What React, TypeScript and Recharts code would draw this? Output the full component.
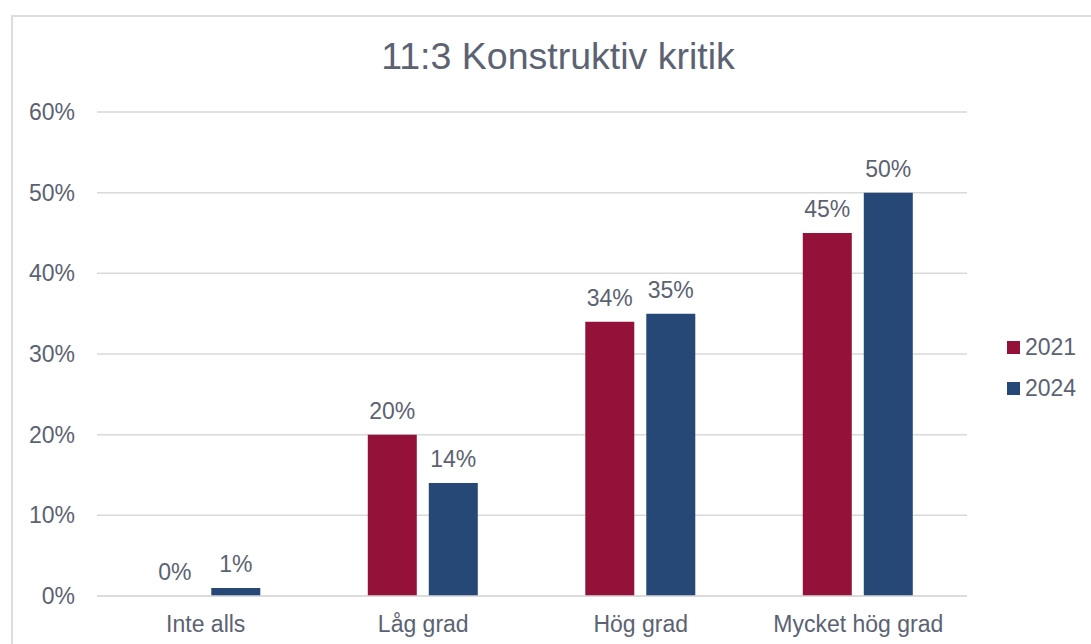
import { BarChart, Bar, XAxis, YAxis, CartesianGrid, LabelList } from 'recharts';

const categories = ['Inte alls', 'Låg grad', 'Hög grad', 'Mycket hög grad'];
const values2021 = [0, 20, 34, 45];
const values2024 = [1, 14, 35, 50];
const yTicks = [0, 10, 20, 30, 40, 50, 60];

const data = categories.map((name, i) => ({
    name,
    y2021: values2021[i],
    y2024: values2024[i],
}));

const textColor = '#5b6272';
const fontFamily = '"Liberation Sans", Arial, sans-serif';

const seriesLegend = [
    { label: '2021', color: '#941239' },
    { label: '2024', color: '#264877' },
];

function LegendBox() {
    return (
        <div style={{ position: 'absolute', left: 1007, top: 327, fontSize: 23, color: textColor }}>
            {seriesLegend.map((s) => (
                <div key={s.label} style={{ display: 'flex', alignItems: 'center', height: 41 }}>
                    <span style={{ width: 13, height: 13, background: s.color, marginRight: 5, display: 'inline-block' }} />
                    <span>{s.label}</span>
                </div>
            ))}
        </div>
    );
}

const renderValue = (props: any) => {
    const { x, y, width, value } = props;
    return (
        <text x={x + width / 2} y={y - 16} textAnchor="middle" fontSize={23} fill={textColor} fontFamily={fontFamily}>
            {`${value}%`}
        </text>
    );
};

// a zero bar is dropped by recharts, so give it a hairline so its label still shows
const hairline = (v: any) => (v === 0 ? 0.01 : 0);

export default function App() {
    return (
        <div style={{ position: 'absolute', left: 0, top: 0, width: 1091, height: 644, overflow: 'hidden', background: '#fff', fontFamily }}>
            <div style={{ position: 'absolute', left: 11, top: 15, width: 1200, height: 800, border: '2px solid #dcdcdf' }} />
            <div style={{ position: 'absolute', left: 0, top: 35, width: 1116, textAlign: 'center', fontSize: 37.5, color: textColor }}>
                11:3 Konstruktiv kritik
            </div>
            <div style={{ position: 'absolute', left: 0, top: 0 }}>
                <BarChart
                    width={1091}
                    height={644}
                    data={data}
                    margin={{ top: 112, right: 124, bottom: 0, left: 0 }}
                    barGap={12}
                    barCategoryGap="24.5%"
                >
                    <CartesianGrid vertical={false} stroke="#d9d9d9" strokeWidth={1.5} />
                    <XAxis
                        dataKey="name"
                        height={48}
                        axisLine={{ stroke: '#d9d9d9', strokeWidth: 1.5 }}
                        tickLine={false}
                        tickSize={0}
                        tickMargin={20}
                        tick={{ fontSize: 23, fill: textColor, fontFamily }}
                    />
                    <YAxis
                        width={97}
                        domain={[0, 60]}
                        ticks={yTicks}
                        tickFormatter={(v) => `${v}%`}
                        axisLine={false}
                        tickLine={false}
                        tickSize={0}
                        tickMargin={22}
                        tick={{ fontSize: 23, fill: textColor, fontFamily }}
                    />
                    <Bar dataKey="y2021" name="2021" fill="#941239" minPointSize={hairline} isAnimationActive={false}>
                        <LabelList dataKey="y2021" content={renderValue} />
                    </Bar>
                    <Bar dataKey="y2024" name="2024" fill="#264877" minPointSize={hairline} isAnimationActive={false}>
                        <LabelList dataKey="y2024" content={renderValue} />
                    </Bar>
                </BarChart>
            </div>
            <LegendBox />
        </div>
    );
}
